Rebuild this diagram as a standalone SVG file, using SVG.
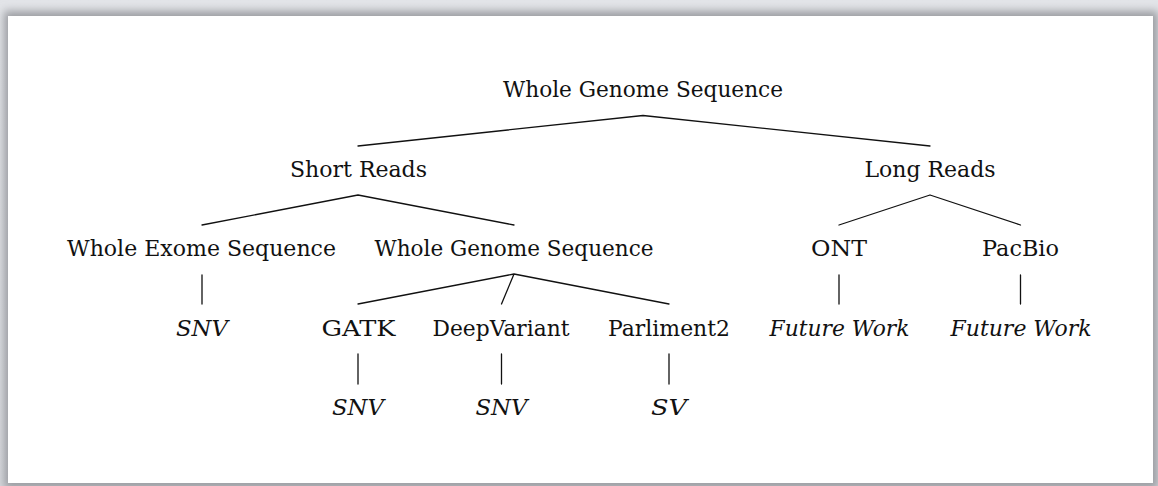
<svg xmlns="http://www.w3.org/2000/svg" width="1158" height="486" viewBox="0 0 1158 486">
<defs>
<filter id="sh" x="-5%" y="-5%" width="110%" height="110%"><feGaussianBlur stdDeviation="4"/></filter>
<linearGradient id="bg" x1="0" y1="0" x2="0" y2="1"><stop offset="0" stop-color="#e2e4e8"/><stop offset="1" stop-color="#d8dadf"/></linearGradient>
</defs>
<style>
text{font-family:'DejaVu Serif','Liberation Serif',serif;font-size:22px;fill:#111;text-anchor:middle}
.it{font-style:italic}
.edge{stroke:#111;stroke-width:1.3;fill:none;stroke-linecap:round}
</style>
<rect x="0" y="0" width="1158" height="486" fill="url(#bg)"/>
<rect x="4" y="11" width="1154" height="478" fill="#9c9ea3" filter="url(#sh)"/>
<rect x="8" y="16" width="1145" height="467" fill="#fff"/>
<g id="connectors">
<path class="edge" d="M643 115.5L358 146M643 115.5L930 146"/>
<path class="edge" d="M358 195L202 225M358 195L514 225"/>
<path class="edge" d="M930 195L839 225M930 195L1020.5 225"/>
<path class="edge" d="M202 275V304M839 275V304M1020.5 275V304"/>
<path class="edge" d="M514 274L358 304M514 274L501.5 304M514 274L669 304"/>
<path class="edge" d="M358 354V384M501.5 354V384M669 354V384"/>
</g>
<g id="root"><text x="643" y="97" textLength="280" lengthAdjust="spacingAndGlyphs">Whole Genome Sequence</text></g>
<g id="short"><text x="358.5" y="177" textLength="137" lengthAdjust="spacingAndGlyphs">Short Reads</text></g>
<g id="long"><text x="930" y="177" textLength="131" lengthAdjust="spacingAndGlyphs">Long Reads</text></g>
<g id="wes"><text x="201.5" y="256" textLength="269" lengthAdjust="spacingAndGlyphs">Whole Exome Sequence</text></g>
<g id="wgs"><text x="514" y="256" textLength="279" lengthAdjust="spacingAndGlyphs">Whole Genome Sequence</text></g>
<g id="ont"><text x="839" y="256" textLength="56" lengthAdjust="spacingAndGlyphs">ONT</text></g>
<g id="pacbio"><text x="1020.5" y="256" textLength="77" lengthAdjust="spacingAndGlyphs">PacBio</text></g>
<g id="wes-snv"><text class="it" x="202" y="336" textLength="52" lengthAdjust="spacingAndGlyphs">SNV</text></g>
<g id="gatk"><text x="358.5" y="336" textLength="74" lengthAdjust="spacingAndGlyphs">GATK</text></g>
<g id="deepvariant"><text x="501" y="336" textLength="137" lengthAdjust="spacingAndGlyphs">DeepVariant</text></g>
<g id="parliment2"><text x="669" y="336" textLength="122" lengthAdjust="spacingAndGlyphs">Parliment2</text></g>
<g id="ont-fw"><text class="it" x="839.5" y="336" textLength="140" lengthAdjust="spacingAndGlyphs">Future Work</text></g>
<g id="pacbio-fw"><text class="it" x="1021" y="336" textLength="141" lengthAdjust="spacingAndGlyphs">Future Work</text></g>
<g id="gatk-snv"><text class="it" x="358" y="415" textLength="52" lengthAdjust="spacingAndGlyphs">SNV</text></g>
<g id="dv-snv"><text class="it" x="501.5" y="415" textLength="52" lengthAdjust="spacingAndGlyphs">SNV</text></g>
<g id="p2-sv"><text class="it" x="669" y="415" textLength="36" lengthAdjust="spacingAndGlyphs">SV</text></g>
</svg>
